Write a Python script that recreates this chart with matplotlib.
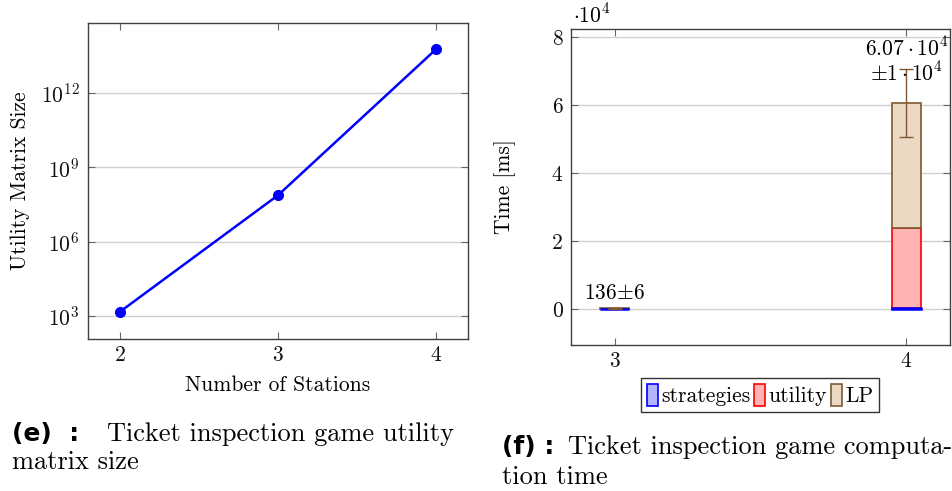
import numpy as np
import matplotlib
matplotlib.use("Agg")
import matplotlib.pyplot as plt
from matplotlib.patches import Rectangle

plt.rcParams['font.family'] = ['cmr10', 'DejaVu Serif']
plt.rcParams['mathtext.fontset'] = 'cm'
plt.rcParams['axes.formatter.use_mathtext'] = True
plt.rcParams['axes.unicode_minus'] = False

# utility matrix size per number of stations
stations = [2, 3, 4]
matrix_size = [1.44e3, 7.4e7, 5.9e13]

# computation time breakdown [ms]
time_stations = [3, 4]
t_strategies = [30, 200]
t_utility = [40, 23600]
t_lp = [66, 36900]
t_err = [6, 10000]
value_labels = [r'$136{\pm}6$', '$6.07\\cdot10^4$\n$\\pm1\\cdot10^4$']
label_offsets = [4, 13]

blue_fill = (0.70, 0.70, 1.0)
red_fill = (1.0, 0.70, 0.70)
brown_fill = (0.92, 0.85, 0.77)
brown_edge = (0.50, 0.34, 0.20)
spine_col = '#404040'
grid_col = '#d0d0d0'
fs = 15.5
cap_fs = 19

fig = plt.figure(figsize=(9.52, 4.91), dpi=100)


def style_axes(ax):
    for s in ax.spines.values():
        s.set_color(spine_col)
        s.set_linewidth(1.0)
    ax.tick_params(direction='in', length=5, width=0.8, color='#666666',
                   top=True, right=True, labelsize=fs, labelcolor='#111111')
    ax.tick_params(axis='y', pad=6)
    ax.tick_params(axis='x', pad=5)
    ax.tick_params(which='minor', length=0)
    ax.yaxis.grid(True, color=grid_col, linewidth=1.0)
    ax.set_axisbelow(True)


# (e) utility matrix size
ax1 = fig.add_axes([0.0924, 0.3096, 0.3992, 0.6436])
ax1.plot(stations, matrix_size, color='blue', linewidth=1.8, marker='o',
         markersize=7, zorder=3)
ax1.set_yscale('log')
ax1.set_xlim(1.8, 4.2)
ax1.set_ylim(10 ** 2.07, 10 ** 14.82)
ax1.set_xticks(stations)
ax1.set_yticks([1e3, 1e6, 1e9, 1e12])
ax1.yaxis.set_minor_locator(matplotlib.ticker.NullLocator())
style_axes(ax1)
ax1.set_xlabel('Number of Stations', fontsize=fs)
ax1.set_ylabel('Utility Matrix Size', fontsize=fs)
ax1.xaxis.set_label_coords(0.5, -0.114)
ax1.yaxis.set_label_coords(-0.152, 0.5)

# (f) computation time, stacked bars
ax2 = fig.add_axes([0.5998, 0.2974, 0.3981, 0.6436])
x = np.array(time_stations, dtype=float)
s = np.array(t_strategies, dtype=float)
u = np.array(t_utility, dtype=float)
lp = np.array(t_lp, dtype=float)
w = 0.1
ax2.bar(x, s, w, color=blue_fill, edgecolor='blue', linewidth=1.2, zorder=3)
ax2.bar(x, u, w, bottom=s, color=red_fill, edgecolor='red', linewidth=1.2, zorder=3)
ax2.bar(x, lp, w, bottom=s + u, color=brown_fill, edgecolor=brown_edge,
        linewidth=1.2, zorder=3)
# blue base line over the stack
ax2.bar(x, s, w, color='none', edgecolor='blue', linewidth=1.8, zorder=4)
total = s + u + lp
ax2.errorbar(x, total, yerr=t_err, fmt='none', ecolor=brown_edge,
             elinewidth=1.0, capsize=5, capthick=1.0, zorder=5)
for xi, ti, lab, off in zip(x, total, value_labels, label_offsets):
    ax2.annotate(lab, (xi, ti), xytext=(0, off), textcoords='offset points',
                 ha='center', va='bottom', fontsize=fs, linespacing=1.05,
                 multialignment='center', zorder=6)

ax2.set_xlim(2.85, 4.15)
ax2.set_ylim(-1.06e4, 8.24e4)
ax2.set_xticks(time_stations)
ax2.set_yticks([0, 2e4, 4e4, 6e4, 8e4])
ax2.set_yticklabels(['0', '2', '4', '6', '8'])
style_axes(ax2)
ax2.text(0.005, 1.022, r'$\cdot10^4$', transform=ax2.transAxes, fontsize=fs,
         ha='left', va='baseline')
ax2.set_ylabel('Time [ms]', fontsize=fs)
ax2.yaxis.set_label_coords(-0.145, 0.5)

handles = [Rectangle((0, 0), 1, 1, facecolor=blue_fill, edgecolor='blue', linewidth=1.2),
           Rectangle((0, 0), 1, 1, facecolor=red_fill, edgecolor='red', linewidth=1.2),
           Rectangle((0, 0), 1, 1, facecolor=brown_fill, edgecolor=brown_edge, linewidth=1.2)]
leg = fig.legend(handles, ['strategies', 'utility', 'LP'], ncol=3,
                 loc='center', bbox_to_anchor=(760 / 952, 1 - 395 / 491),
                 fontsize=fs, frameon=True, fancybox=False, edgecolor='black',
                 handlelength=0.5, handleheight=1.2, handletextpad=0.15,
                 columnspacing=0.2, borderpad=0.25, borderaxespad=0)
leg.get_frame().set_linewidth(1.0)

# captions
fig.text(12 / 952, 1 - 441 / 491, '(e)  :', fontsize=cap_fs - 1, fontweight='bold',
         family='DejaVu Sans')
fig.text(107 / 952, 1 - 441 / 491, 'Ticket inspection game utility', fontsize=cap_fs)
fig.text(12 / 952, 1 - 469 / 491, 'matrix size', fontsize=cap_fs)
fig.text(502 / 952, 1 - 454 / 491, '(f) :', fontsize=cap_fs - 1, fontweight='bold',
         family='DejaVu Sans')
fig.text(568 / 952, 1 - 454 / 491, 'Ticket inspection game computa-', fontsize=cap_fs)
fig.text(502 / 952, 1 - 484 / 491, 'tion time', fontsize=cap_fs)

fig.savefig('out.png', dpi=100)
